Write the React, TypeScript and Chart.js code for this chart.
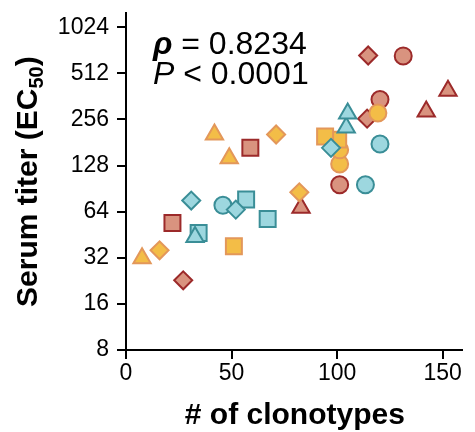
import React, { useEffect, useRef } from "react";
import { Chart, registerables } from "chart.js";

Chart.register(...registerables);

const yTicks = [8, 16, 32, 64, 128, 256, 512, 1024];
const xTicks = [0, 50, 100, 150];

const redX = [27.1, 22, 58.9, 82.9, 101.2, 114.2, 120.3, 142.2, 152.5, 131.3, 114.7];
const redY = [22.8, 54, 167, 68, 96, 259, 345, 288, 394, 665, 669];
const redShape = ["rectRot", "rect", "rect", "triangle", "circle", "rectRot", "circle", "triangle", "triangle", "circle", "rectRot"];

const orangeX = [7.6, 15.9, 51.1, 82.1, 71.1, 48.9, 41.9, 101.2, 101.2, 100.5, 94.3, 119.3];
const orangeY = [31.8, 35.8, 38, 85.6, 204, 143, 204, 131, 162, 189, 198, 282];
const orangeShape = ["triangle", "rectRot", "rect", "rectRot", "rectRot", "triangle", "triangle", "circle", "circle", "rect", "rect", "circle"];

const tealX = [34.4, 67.1, 56.9, 45.9, 113.4, 120.3, 30.9, 52, 97.1, 32.7, 104.3, 105];
const tealY = [46.4, 57.3, 76.8, 70.5, 96, 177, 75.6, 66, 167, 43.7, 227, 280];
const tealShape = ["rect", "rect", "rect", "circle", "circle", "circle", "rectRot", "rectRot", "rectRot", "triangle", "triangle", "triangle"];

const xTitle = "# of clonotypes";
const yTitleMain = "Serum titer (EC";
const yTitleSub = "50";
const yTitleEnd = ")";
const rhoLabel = "ρ";
const rhoValue = " = 0.8234";
const pLabel = "P";
const pValue = " < 0.0001";

const FONT = "'Liberation Sans', Arial, Helvetica, sans-serif";

const shapeRadius: Record<string, number> = { circle: 8.5, rect: 11.3, rectRot: 9, triangle: 10 };

function makeData(xs: number[], ys: number[]) {
  return xs.map((x, i) => ({ x, y: ys[i] }));
}

function makeDataset(xs: number[], ys: number[], shapes: string[], fill: string, border: string, order: number) {
  return {
    data: makeData(xs, ys),
    pointStyle: shapes,
    pointRadius: shapes.map((s) => shapeRadius[s]),
    pointHoverRadius: shapes.map((s) => shapeRadius[s]),
    backgroundColor: fill,
    borderColor: border,
    pointBorderWidth: 2,
    showLine: false,
    order,
  };
}

const textPlugin = {
  id: "customTexts",
  afterDraw(chart: any) {
    const ctx = chart.ctx as CanvasRenderingContext2D;
    const ca = chart.chartArea;
    ctx.save();
    ctx.fillStyle = "#000";
    ctx.textAlign = "left";
    ctx.textBaseline = "alphabetic";

    // annotation
    let x = 153;
    ctx.font = `italic bold 32px ${FONT}`;
    ctx.fillText(rhoLabel, x, 54);
    x += ctx.measureText(rhoLabel).width;
    ctx.font = `32px ${FONT}`;
    ctx.fillText(rhoValue, x, 54);

    x = 153;
    ctx.font = `italic 32px ${FONT}`;
    ctx.fillText(pLabel, x, 84);
    x += ctx.measureText(pLabel).width;
    ctx.font = `32px ${FONT}`;
    ctx.fillText(pValue, x, 84);

    // x title
    ctx.font = `bold 30px ${FONT}`;
    ctx.textAlign = "center";
    ctx.fillText(xTitle, (ca.left + ca.right) / 2 + 1, 424);

    // y title
    ctx.textAlign = "left";
    const mainFont = `bold 30px ${FONT}`;
    const subFont = `bold 20px ${FONT}`;
    ctx.font = mainFont;
    const w1 = ctx.measureText(yTitleMain).width;
    const w3 = ctx.measureText(yTitleEnd).width;
    ctx.font = subFont;
    const w2 = ctx.measureText(yTitleSub).width;
    const total = w1 + w2 + w3;
    ctx.translate(37, (ca.top + ca.bottom) / 2);
    ctx.rotate(-Math.PI / 2);
    let sx = -total / 2;
    ctx.font = mainFont;
    ctx.fillText(yTitleMain, sx, 0);
    sx += w1;
    ctx.font = subFont;
    ctx.fillText(yTitleSub, sx, 6);
    sx += w2;
    ctx.font = mainFont;
    ctx.fillText(yTitleEnd, sx, 0);
    ctx.restore();
  },
};

export default function App() {
  const canvasRef = useRef<HTMLCanvasElement | null>(null);

  useEffect(() => {
    const canvas = canvasRef.current;
    if (!canvas) return;
    const chart = new Chart(canvas, {
      type: "scatter",
      data: {
        datasets: [
          makeDataset(redX, redY, redShape, "#d9937f", "#9c2a2a", 3),
          makeDataset(orangeX, orangeY, orangeShape, "#f3bd47", "#e3975a", 2),
          makeDataset(tealX, tealY, tealShape, "#9dd7df", "#3a8e97", 1),
        ] as any,
      },
      options: {
        animation: false,
        responsive: true,
        maintainAspectRatio: false,
        layout: { padding: { top: 12, right: 2, left: 0, bottom: 0 } },
        plugins: {
          legend: { display: false },
          tooltip: { enabled: false },
          title: { display: false },
        },
        scales: {
          x: {
            type: "linear",
            min: 0,
            max: 159,
            afterBuildTicks: (scale: any) => {
              scale.ticks = xTicks.map((v) => ({ value: v }));
            },
            afterFit: (scale: any) => {
              scale.height = 82;
              scale.paddingLeft = 0;
              scale.paddingRight = 0;
            },
            grid: { drawOnChartArea: false, drawTicks: true, tickLength: 9, color: "#000", lineWidth: 2 },
            border: { display: true, color: "#000", width: 2 },
            ticks: {
              color: "#000",
              padding: 3,
              maxRotation: 0,
              font: { family: FONT, size: 23, lineHeight: 1 },
              callback: (v: any) => String(v),
            },
          },
          y: {
            type: "logarithmic",
            min: 8,
            max: 1262,
            afterBuildTicks: (scale: any) => {
              scale.ticks = yTicks.map((v) => ({ value: v }));
            },
            afterFit: (scale: any) => {
              scale.width = 126;
              scale.paddingTop = 0;
              scale.paddingBottom = 0;
            },
            grid: { drawOnChartArea: false, drawTicks: true, tickLength: 9, color: "#000", lineWidth: 2 },
            border: { display: true, color: "#000", width: 2 },
            ticks: {
              color: "#000",
              padding: 8,
              font: { family: FONT, size: 23, lineHeight: 1 },
              callback: (v: any) => String(v),
            },
          },
        },
      },
      plugins: [textPlugin],
    });
    return () => chart.destroy();
  }, []);

  return (
    <div style={{ position: "fixed", left: 0, top: 0, width: 475, height: 432, background: "#fff" }}>
      <canvas ref={canvasRef} />
    </div>
  );
}
